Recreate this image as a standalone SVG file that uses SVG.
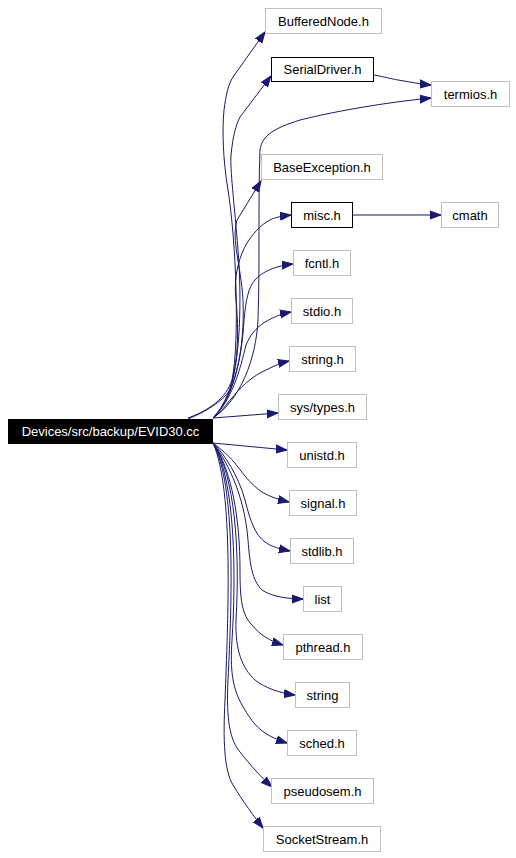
<svg xmlns="http://www.w3.org/2000/svg" width="516" height="858" viewBox="0 0 516 858">
<style>
.n rect{fill:#fff;stroke:#bfbfbf;stroke-width:1}
.n.b rect{stroke:#000}
.n text{font-family:"Liberation Sans",Arial,sans-serif;font-size:13px;fill:#000;text-anchor:middle}
#evid rect{fill:#000;stroke:#000}
#evid text{fill:#fff}
#edges path{fill:none;stroke:#191970;stroke-width:1;marker-end:url(#ah)}
</style>
<defs>
<marker id="ah" markerUnits="userSpaceOnUse" markerWidth="12" markerHeight="10" refX="11" refY="4" orient="auto" viewBox="0 0 12 8">
<path d="M0,0 L11,4 L0,8 Z" fill="#191970" stroke="#191970" stroke-width="1"/>
</marker>
</defs>
<rect width="516" height="858" fill="#fff"/>
<g id="edges">
<path d="M188,418 C210,410 226,398 232,380 C240,340 236,240 228,190 C223,160 222,130 224,110 C226,95 228,85 233,77 L265,32"/>
<path d="M188,419 C205,412 222,402 230,390 C240,360 242,300 238,250 C234,200 230,170 231,155 C233,135 236,125 240,117 L271,76"/>
<path d="M374,75 C385,77 392,79 398,80 C410,82 420,84 431,85"/>
<path d="M213,418 C240,400 256,360 258,320 C260,260 258,200 260,150 C262,135 275,128 300,120 C340,110 390,102 431,98"/>
<path d="M213,418 C235,395 245,350 243,300 C241,265 231,240 237,220 L261,181"/>
<path d="M213,418 C238,392 240,340 236,300 C233,275 240,255 247,243 C252,235 260,225 270,220 C276,217 282,216 291,215"/>
<path d="M353,215 L441,215"/>
<path d="M213,418 C232,400 242,360 244,320 C246,300 248,288 255,280 C260,274 272,266 293,264"/>
<path d="M213,418 C232,400 240,370 246,345 C250,335 256,328 265,322 C272,318 280,314 291,312"/>
<path d="M213,418 C222,412 226,404 232,398 C240,388 250,378 262,372 C272,367 280,363 289,361"/>
<path d="M213,418 L278,413"/>
<path d="M213,443 L287,450"/>
<path d="M213,443 C222,450 228,455 234,462 C242,472 250,484 262,492 C270,497 280,500 289,502"/>
<path d="M213,443 C225,455 238,475 245,500 C250,520 255,535 265,542 C272,547 280,549 290,551"/>
<path d="M213,443 C230,465 245,500 248,540 C250,565 252,580 262,590 C272,597 290,599 303,599"/>
<path d="M213,443 C232,470 240,520 240,570 C240,600 242,615 252,625 C260,635 270,641 283,645"/>
<path d="M213,443 C235,475 240,550 236,620 C235,650 242,668 255,680 C265,688 280,693 295,695"/>
<path d="M213,443 C236,480 236,580 232,640 C230,670 232,690 245,710 C254,725 262,735 287,743"/>
<path d="M213,443 C236,485 232,600 228,680 C226,720 230,740 240,752 C250,765 262,778 272,787"/>
<path d="M213,443 C234,490 228,620 225,700 C223,740 224,770 233,785 C242,800 255,818 263,828"/>
</g>
<g id="evid" class="n"><rect x="8.5" y="419.5" width="204" height="24"/><text x="110.5" y="436">Devices/src/backup/EVID30.cc</text></g>
<g id="bufferednode" class="n"><rect x="265.5" y="8.5" width="116" height="25"/><text x="323.5" y="25.5">BufferedNode.h</text></g>
<g id="serialdriver" class="n b"><rect x="271.5" y="57.5" width="102" height="24"/><text x="322.5" y="74">SerialDriver.h</text></g>
<g id="termios" class="n"><rect x="431.5" y="81.5" width="78" height="25"/><text x="470.5" y="98.5">termios.h</text></g>
<g id="baseexception" class="n"><rect x="261.5" y="154.5" width="121" height="25"/><text x="322" y="171.5">BaseException.h</text></g>
<g id="misc" class="n b"><rect x="291.5" y="202.5" width="61" height="25"/><text x="322" y="219.5">misc.h</text></g>
<g id="cmath" class="n"><rect x="441.5" y="202.5" width="57" height="25"/><text x="470" y="219.5">cmath</text></g>
<g id="fcntl" class="n"><rect x="293.5" y="250.5" width="57" height="25"/><text x="322" y="267.5">fcntl.h</text></g>
<g id="stdio" class="n"><rect x="291.5" y="298.5" width="61" height="25"/><text x="322" y="315.5">stdio.h</text></g>
<g id="stringh" class="n"><rect x="289.5" y="346.5" width="66" height="25"/><text x="322.5" y="363.5">string.h</text></g>
<g id="systypes" class="n"><rect x="278.5" y="394.5" width="88" height="25"/><text x="322.5" y="411.5">sys/types.h</text></g>
<g id="unistd" class="n"><rect x="287.5" y="442.5" width="69" height="25"/><text x="322" y="459.5">unistd.h</text></g>
<g id="signal" class="n"><rect x="289.5" y="490.5" width="67" height="25"/><text x="323" y="507.5">signal.h</text></g>
<g id="stdlib" class="n"><rect x="290.5" y="538.5" width="63" height="25"/><text x="322" y="555.5">stdlib.h</text></g>
<g id="list" class="n"><rect x="303.5" y="586.5" width="38" height="25"/><text x="322.5" y="603.5">list</text></g>
<g id="pthread" class="n"><rect x="283.5" y="634.5" width="79" height="25"/><text x="323" y="651.5">pthread.h</text></g>
<g id="string" class="n"><rect x="295.5" y="682.5" width="54" height="25"/><text x="322.5" y="699.5">string</text></g>
<g id="sched" class="n"><rect x="287.5" y="730.5" width="69" height="25"/><text x="322" y="747.5">sched.h</text></g>
<g id="pseudosem" class="n"><rect x="271.5" y="778.5" width="102" height="25"/><text x="322.5" y="795.5">pseudosem.h</text></g>
<g id="socketstream" class="n"><rect x="263.5" y="826.5" width="117" height="25"/><text x="322" y="843.5">SocketStream.h</text></g>
</svg>
